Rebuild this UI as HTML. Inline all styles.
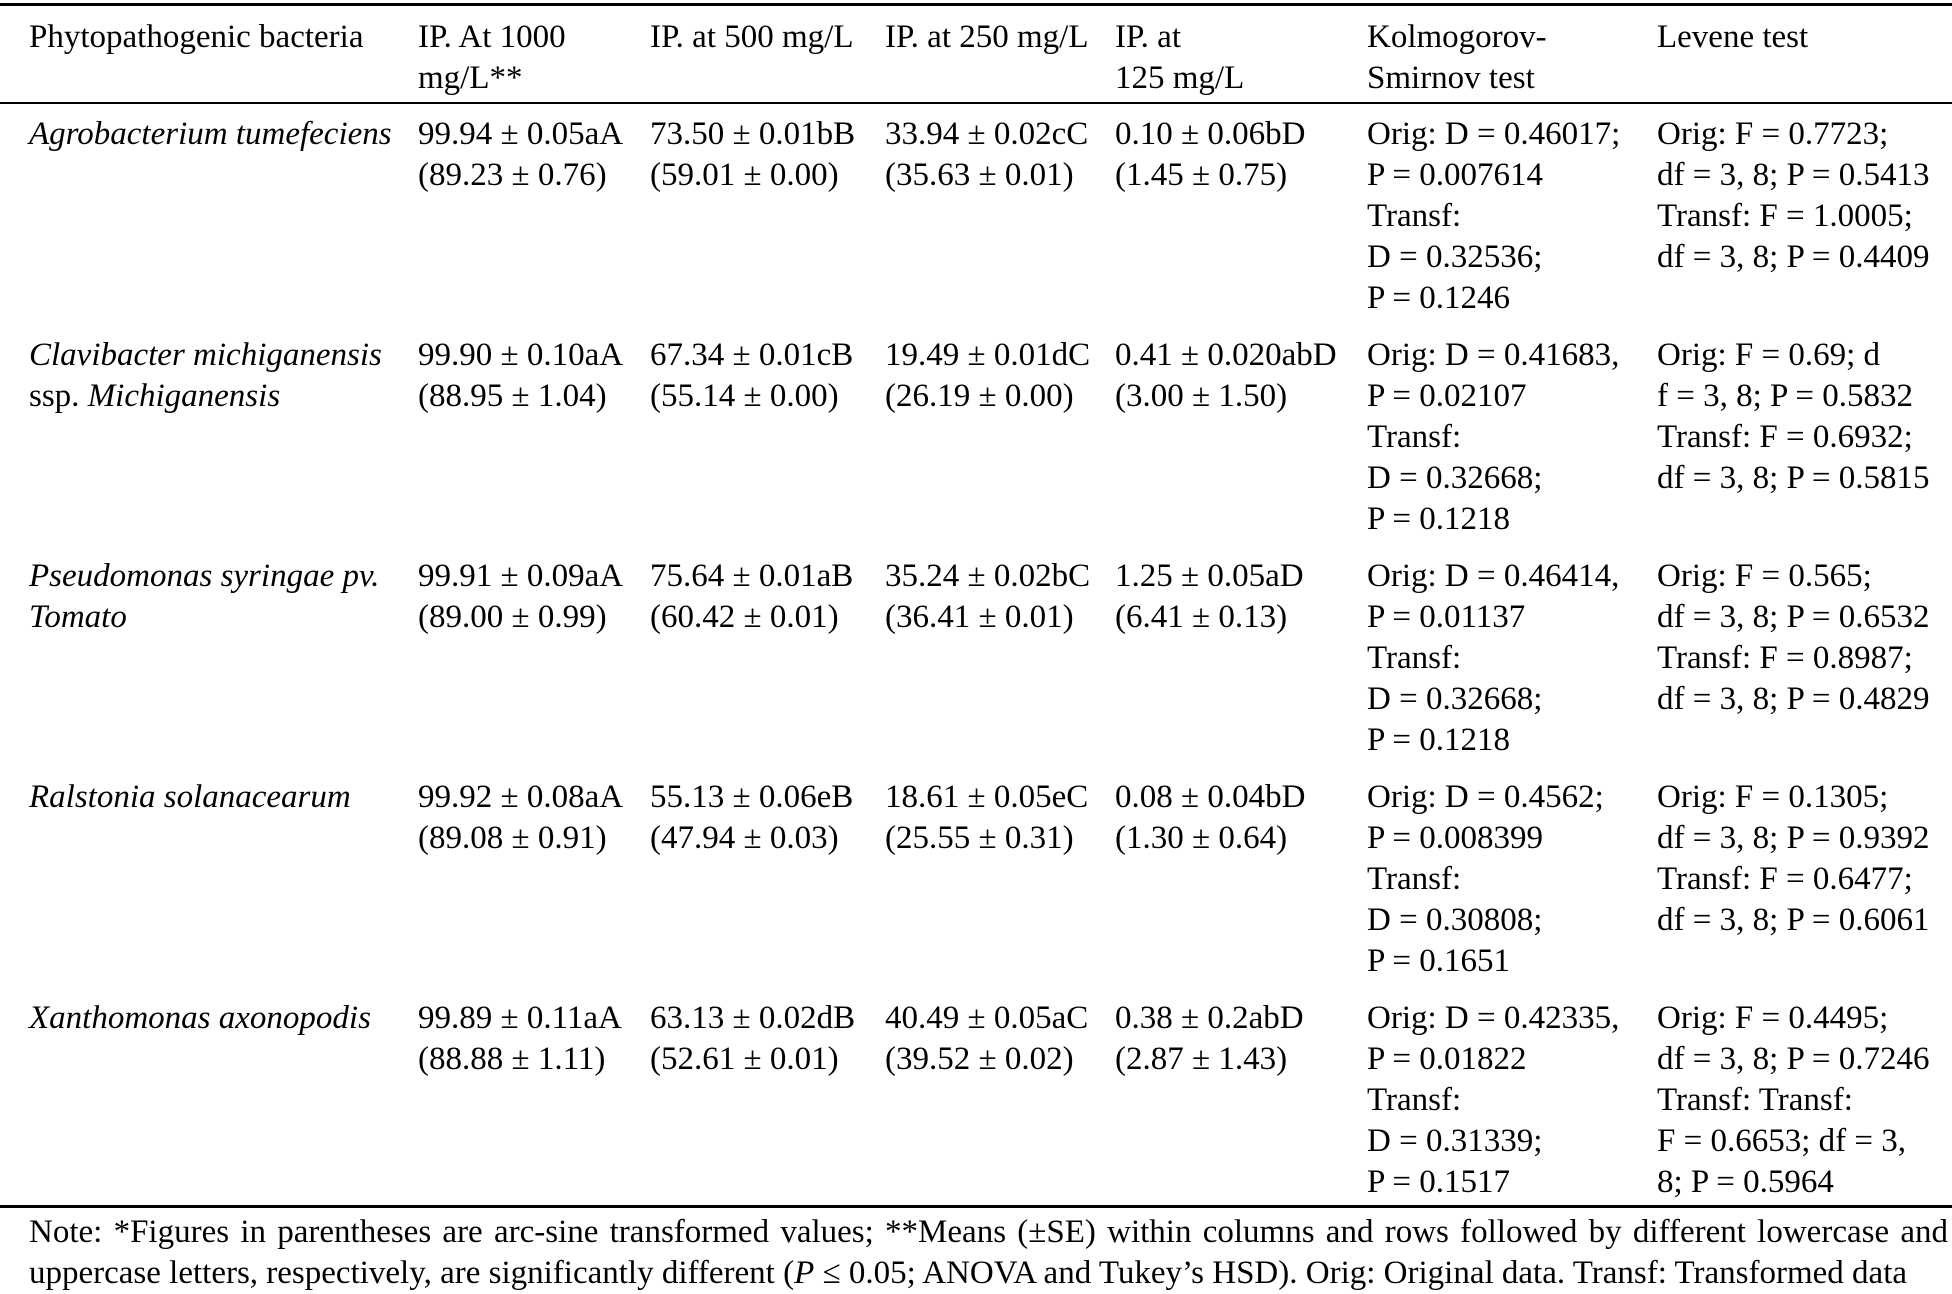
<!DOCTYPE html>
<html><head><meta charset="utf-8"><style>
html,body{margin:0;padding:0;background:#fff;}
body{width:1952px;height:1287px;position:relative;overflow:hidden;font-family:"Liberation Serif",serif;font-size:33px;line-height:41px;color:#000;}
.c{position:absolute;white-space:nowrap;}
.r{position:absolute;left:0;width:1952px;background:#000;}
i{font-style:italic;}
.note{position:absolute;left:29px;width:1919px;top:1211.5px;}
.j{text-align:justify;text-align-last:justify;white-space:nowrap;}
</style></head><body>
<div class="r" style="top:3px;height:3px"></div>
<div class="r" style="top:102px;height:2px"></div>
<div class="r" style="top:1205px;height:3px"></div>

<div class="c" style="left:29px;top:16.5px">Phytopathogenic bacteria</div>
<div class="c" style="left:418px;top:16.5px">IP. At 1000<br>mg/L**</div>
<div class="c" style="left:650px;top:16.5px">IP. at 500 mg/L</div>
<div class="c" style="left:885px;top:16.5px">IP. at 250 mg/L</div>
<div class="c" style="left:1115px;top:16.5px">IP. at<br>125 mg/L</div>
<div class="c" style="left:1367px;top:16.5px">Kolmogorov-<br>Smirnov test</div>
<div class="c" style="left:1657px;top:16.5px">Levene test</div>

<div class="c" style="left:29px;top:114px"><i>Agrobacterium tumefeciens</i></div>
<div class="c" style="left:418px;top:114px">99.94 ± 0.05aA<br>(89.23 ± 0.76)</div>
<div class="c" style="left:650px;top:114px">73.50 ± 0.01bB<br>(59.01 ± 0.00)</div>
<div class="c" style="left:885px;top:114px">33.94 ± 0.02cC<br>(35.63 ± 0.01)</div>
<div class="c" style="left:1115px;top:114px">0.10 ± 0.06bD<br>(1.45 ± 0.75)</div>
<div class="c" style="left:1367px;top:114px">Orig: D = 0.46017;<br>P = 0.007614<br>Transf:<br>D = 0.32536;<br>P = 0.1246</div>
<div class="c" style="left:1657px;top:114px">Orig: F = 0.7723;<br>df = 3, 8; P = 0.5413<br>Transf: F = 1.0005;<br>df = 3, 8; P = 0.4409</div>

<div class="c" style="left:29px;top:334.5px"><i>Clavibacter michiganensis</i><br>ssp. <i>Michiganensis</i></div>
<div class="c" style="left:418px;top:334.5px">99.90 ± 0.10aA<br>(88.95 ± 1.04)</div>
<div class="c" style="left:650px;top:334.5px">67.34 ± 0.01cB<br>(55.14 ± 0.00)</div>
<div class="c" style="left:885px;top:334.5px">19.49 ± 0.01dC<br>(26.19 ± 0.00)</div>
<div class="c" style="left:1115px;top:334.5px">0.41 ± 0.020abD<br>(3.00 ± 1.50)</div>
<div class="c" style="left:1367px;top:334.5px">Orig: D = 0.41683,<br>P = 0.02107<br>Transf:<br>D = 0.32668;<br>P = 0.1218</div>
<div class="c" style="left:1657px;top:334.5px">Orig: F = 0.69; d<br>f = 3, 8; P = 0.5832<br>Transf: F = 0.6932;<br>df = 3, 8; P = 0.5815</div>

<div class="c" style="left:29px;top:555.5px"><i>Pseudomonas syringae pv.</i><br><i>Tomato</i></div>
<div class="c" style="left:418px;top:555.5px">99.91 ± 0.09aA<br>(89.00 ± 0.99)</div>
<div class="c" style="left:650px;top:555.5px">75.64 ± 0.01aB<br>(60.42 ± 0.01)</div>
<div class="c" style="left:885px;top:555.5px">35.24 ± 0.02bC<br>(36.41 ± 0.01)</div>
<div class="c" style="left:1115px;top:555.5px">1.25 ± 0.05aD<br>(6.41 ± 0.13)</div>
<div class="c" style="left:1367px;top:555.5px">Orig: D = 0.46414,<br>P = 0.01137<br>Transf:<br>D = 0.32668;<br>P = 0.1218</div>
<div class="c" style="left:1657px;top:555.5px">Orig: F = 0.565;<br>df = 3, 8; P = 0.6532<br>Transf: F = 0.8987;<br>df = 3, 8; P = 0.4829</div>

<div class="c" style="left:29px;top:776.5px"><i>Ralstonia solanacearum</i></div>
<div class="c" style="left:418px;top:776.5px">99.92 ± 0.08aA<br>(89.08 ± 0.91)</div>
<div class="c" style="left:650px;top:776.5px">55.13 ± 0.06eB<br>(47.94 ± 0.03)</div>
<div class="c" style="left:885px;top:776.5px">18.61 ± 0.05eC<br>(25.55 ± 0.31)</div>
<div class="c" style="left:1115px;top:776.5px">0.08 ± 0.04bD<br>(1.30 ± 0.64)</div>
<div class="c" style="left:1367px;top:776.5px">Orig: D = 0.4562;<br>P = 0.008399<br>Transf:<br>D = 0.30808;<br>P = 0.1651</div>
<div class="c" style="left:1657px;top:776.5px">Orig: F = 0.1305;<br>df = 3, 8; P = 0.9392<br>Transf: F = 0.6477;<br>df = 3, 8; P = 0.6061</div>

<div class="c" style="left:29px;top:997.5px"><i>Xanthomonas axonopodis</i></div>
<div class="c" style="left:418px;top:997.5px">99.89 ± 0.11aA<br>(88.88 ± 1.11)</div>
<div class="c" style="left:650px;top:997.5px">63.13 ± 0.02dB<br>(52.61 ± 0.01)</div>
<div class="c" style="left:885px;top:997.5px">40.49 ± 0.05aC<br>(39.52 ± 0.02)</div>
<div class="c" style="left:1115px;top:997.5px">0.38 ± 0.2abD<br>(2.87 ± 1.43)</div>
<div class="c" style="left:1367px;top:997.5px">Orig: D = 0.42335,<br>P = 0.01822<br>Transf:<br>D = 0.31339;<br>P = 0.1517</div>
<div class="c" style="left:1657px;top:997.5px">Orig: F = 0.4495;<br>df = 3, 8; P = 0.7246<br>Transf: Transf:<br>F = 0.6653; df = 3,<br>8; P = 0.5964</div>

<div class="note">
<div class="j">Note: *Figures in parentheses are arc-sine transformed values; **Means (±SE) within columns and rows followed by different lowercase and</div>
<div style="white-space:nowrap">uppercase letters, respectively, are significantly different (<i>P</i> ≤ 0.05; ANOVA and Tukey’s HSD). Orig: Original data. Transf: Transformed data</div>
</div>
</body></html>
